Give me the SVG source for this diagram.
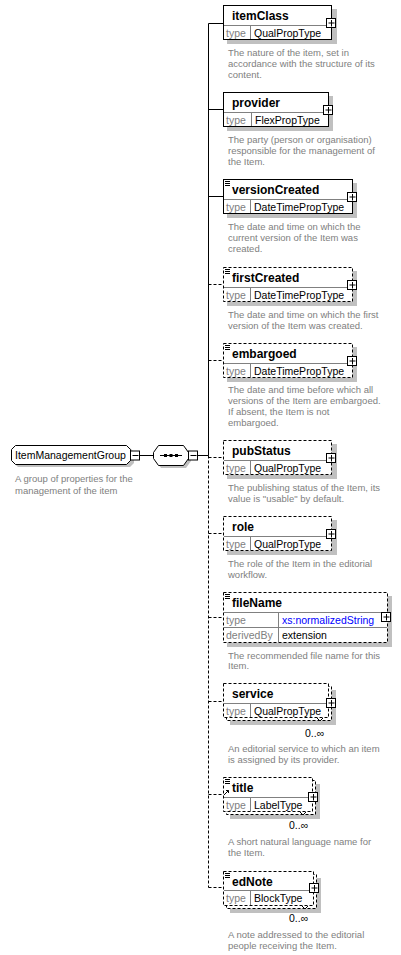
<svg xmlns="http://www.w3.org/2000/svg" width="401" height="955" viewBox="0 0 401 955">
<style>
.box{fill:#fff;stroke:#000;stroke-width:1}
.dbox{fill:#fff;stroke:#000;stroke-width:1;stroke-dasharray:3,2}
.sh{fill:#c0c0c0;stroke:none}
.div{stroke:#808080;stroke-width:1;fill:none}
.ln{stroke:#000;stroke-width:1;fill:none}
.dln{stroke:#000;stroke-width:1;fill:none;stroke-dasharray:3,2}
.lbl{font-family:"Liberation Sans",Arial,sans-serif;font-size:12px;font-weight:bold;fill:#000}
.tk{font-family:"Liberation Sans",Arial,sans-serif;font-size:10.5px;fill:#808080}
.tv{font-family:"Liberation Sans",Arial,sans-serif;font-size:10.5px;fill:#000}
.tb{font-family:"Liberation Sans",Arial,sans-serif;font-size:10.5px;fill:#0000ff}
.ds{font-family:"Liberation Sans",Arial,sans-serif;font-size:9.5px;fill:#808080}
.oc{font-family:"Liberation Sans",Arial,sans-serif;font-size:10.5px;fill:#000}
.pm{fill:#fff;stroke:#000;stroke-width:1}
</style>
<defs>
<g id="plus"><rect class="pm" x="0.5" y="0.5" width="9" height="9"/><path class="ln" d="M2.5,5H8.5M5.5,2V8.5"/></g>
<g id="minus"><rect class="pm" x="0.5" y="0.5" width="9" height="9"/><path class="ln" d="M2.5,5H8.5"/></g>
<g id="doc"><path class="ln" d="M2,1.5H7M2,3.5H7M2,5.5H7"/></g>
<path id="notch" class="ln" d="M0,0L3,3L6,0"/>
</defs>

<g id="connectors">
<path class="ln" d="M139,455.5H153.5"/>
<path class="ln" d="M197,455.5H208.5"/>
<path class="ln" d="M208.5,23.5V455.5"/>
<path class="dln" d="M208.5,455.5V887.5"/>
<path class="ln" d="M208.5,23.5H223"/>
<path class="ln" d="M208.5,109.5H223"/>
<path class="ln" d="M208.5,196.5H223"/>
<path class="dln" d="M208.5,284.5H223"/>
<path class="dln" d="M208.5,360.5H223"/>
<path class="dln" d="M208.5,457.5H223"/>
<path class="dln" d="M208.5,533.5H223"/>
<path class="dln" d="M208.5,617.5H223"/>
<path class="dln" d="M208.5,701.5H223"/>
<path class="dln" d="M208.5,794.5H223"/>
<path class="dln" d="M208.5,887.5H223"/>
</g>

<g id="ItemManagementGroup">
<path class="sh" d="M18,448H130L134,452V463L130,467H18L14,463V452Z"/>
<path class="box" d="M15.5,445.5H126.5L130.5,449.5V460.5L126.5,464.5H15.5L11.5,460.5V449.5Z"/>
<text class="tv" x="15" y="459">ItemManagementGroup</text>
<use href="#minus" x="130" y="450.5"/>
<text class="ds" x="15" y="482">A group of properties for the</text>
<text class="ds" x="15" y="493.5">management of the item</text>
</g>

<g id="sequence">
<path class="sh" d="M161,448H186L191,455V461L186,468H161L156,461V455Z"/>
<path class="box" d="M158.5,445.5H183.5L188.5,452.5V458.5L183.5,465.5H158.5L153.5,458.5V452.5Z"/>
<path class="ln" d="M160,455.5H182"/>
<rect x="164" y="454" width="3" height="3" fill="#000"/>
<rect x="169.5" y="454" width="3" height="3" fill="#000"/>
<rect x="175" y="454" width="3" height="3" fill="#000"/>
<use href="#minus" x="188" y="450.5"/>
</g>

<g id="itemClass">
<rect class="sh" x="227" y="9" width="110" height="35"/>
<rect class="box" x="223.5" y="5.5" width="108" height="34"/>
<path class="div" d="M224,25.5H331M250.5,26V39"/>
<text class="lbl" x="232" y="20">itemClass</text>
<text class="tk" x="226" y="36.5">type</text>
<text class="tv" x="254" y="36.5">QualPropType</text>
<use href="#plus" x="326" y="18"/>
<text class="ds" x="228" y="55.5">The nature of the item, set in</text>
<text class="ds" x="228" y="66.5">accordance with the structure of its</text>
<text class="ds" x="228" y="78">content.</text>
</g>

<g id="provider">
<rect class="sh" x="227" y="96" width="106" height="35"/>
<rect class="box" x="223.5" y="92.5" width="105" height="34"/>
<path class="div" d="M224,112.5H328M251.5,113V126"/>
<text class="lbl" x="232" y="107">provider</text>
<text class="tk" x="226" y="123.5">type</text>
<text class="tv" x="255" y="123.5">FlexPropType</text>
<use href="#plus" x="323" y="105"/>
<text class="ds" x="228" y="142.5">The party (person or organisation)</text>
<text class="ds" x="228" y="154">responsible for the management of</text>
<text class="ds" x="228" y="165">the Item.</text>
</g>

<g id="versionCreated">
<rect class="sh" x="227" y="183" width="130" height="35"/>
<rect class="box" x="223.5" y="179.5" width="129" height="34"/>
<use href="#doc" x="223" y="180"/>
<path class="div" d="M224,199.5H352M250.5,200V213"/>
<text class="lbl" x="232" y="194">versionCreated</text>
<text class="tk" x="226" y="210.5">type</text>
<text class="tv" x="254" y="210.5">DateTimePropType</text>
<use href="#plus" x="347" y="192"/>
<text class="ds" x="228" y="230">The date and time on which the</text>
<text class="ds" x="228" y="241">current version of the Item was</text>
<text class="ds" x="228" y="252">created.</text>
</g>

<g id="firstCreated">
<rect class="sh" x="227" y="271" width="130" height="35"/>
<rect class="dbox" x="223.5" y="267.5" width="129" height="34"/>
<use href="#doc" x="223" y="268"/>
<path class="div" d="M224,287.5H352M250.5,288V301"/>
<text class="lbl" x="232" y="282">firstCreated</text>
<text class="tk" x="226" y="298.5">type</text>
<text class="tv" x="254" y="298.5">DateTimePropType</text>
<use href="#plus" x="347" y="280"/>
<text class="ds" x="228" y="317.5">The date and time on which the first</text>
<text class="ds" x="228" y="329">version of the Item was created.</text>
</g>

<g id="embargoed">
<rect class="sh" x="227" y="347" width="130" height="35"/>
<rect class="dbox" x="223.5" y="343.5" width="129" height="34"/>
<use href="#doc" x="223" y="344"/>
<path class="div" d="M224,363.5H352M250.5,364V377"/>
<text class="lbl" x="232" y="358">embargoed</text>
<text class="tk" x="226" y="374.5">type</text>
<text class="tv" x="254" y="374.5">DateTimePropType</text>
<use href="#plus" x="347" y="356"/>
<text class="ds" x="228" y="392.5">The date and time before which all</text>
<text class="ds" x="228" y="404">versions of the Item are embargoed.</text>
<text class="ds" x="228" y="415">If absent, the Item is not</text>
<text class="ds" x="228" y="426">embargoed.</text>
</g>

<g id="pubStatus">
<rect class="sh" x="227" y="444" width="110" height="35"/>
<rect class="dbox" x="223.5" y="440.5" width="108" height="34"/>
<path class="div" d="M224,460.5H331M250.5,461V474"/>
<text class="lbl" x="232" y="455">pubStatus</text>
<text class="tk" x="226" y="471.5">type</text>
<text class="tv" x="254" y="471.5">QualPropType</text>
<use href="#plus" x="326" y="453"/>
<text class="ds" x="228" y="491">The publishing status of the Item, its</text>
<text class="ds" x="228" y="502">value is "usable" by default.</text>
</g>

<g id="role">
<rect class="sh" x="227" y="520" width="110" height="35"/>
<rect class="dbox" x="223.5" y="516.5" width="108" height="34"/>
<path class="div" d="M224,536.5H331M250.5,537V550"/>
<text class="lbl" x="232" y="531">role</text>
<text class="tk" x="226" y="547.5">type</text>
<text class="tv" x="254" y="547.5">QualPropType</text>
<use href="#plus" x="326" y="529"/>
<text class="ds" x="228" y="567">The role of the Item in the editorial</text>
<text class="ds" x="228" y="578">workflow.</text>
</g>

<g id="fileName">
<rect class="sh" x="227" y="596" width="165" height="51"/>
<rect class="dbox" x="223.5" y="592.5" width="164" height="50"/>
<use href="#doc" x="223" y="593"/>
<path class="div" d="M224,612.5H387M224,627.5H387M278.5,613V642"/>
<text class="lbl" x="232" y="607">fileName</text>
<text class="tk" x="226" y="624">type</text>
<text class="tb" x="282" y="624">xs:normalizedString</text>
<text class="tk" x="226" y="639">derivedBy</text>
<text class="tv" x="282" y="639">extension</text>
<use href="#plus" x="381" y="612"/>
<text class="ds" x="228" y="658.5">The recommended file name for this</text>
<text class="ds" x="228" y="669">Item.</text>
</g>

<g id="service">
<rect class="sh" x="230" y="690" width="106" height="35"/>
<rect class="dbox" x="226.5" y="686.5" width="105" height="34"/>
<rect class="dbox" x="223.5" y="683.5" width="105" height="34"/>
<path class="div" d="M224,703.5H328M250.5,704V717"/>
<text class="lbl" x="232" y="698">service</text>
<text class="tk" x="226" y="714.5">type</text>
<text class="tv" x="254" y="714.5">QualPropType</text>
<use href="#notch" x="317" y="718"/>
<use href="#plus" x="326" y="698"/>
<text class="oc" x="305" y="737">0..∞</text>
<text class="ds" x="228" y="752">An editorial service to which an item</text>
<text class="ds" x="228" y="763">is assigned by its provider.</text>
</g>

<g id="title">
<rect class="sh" x="230" y="784" width="90" height="35"/>
<rect class="dbox" x="226.5" y="780.5" width="89" height="34"/>
<rect class="dbox" x="223.5" y="777.5" width="89" height="34"/>
<use href="#doc" x="223" y="778"/>
<path class="ln" d="M224,795L228.5,790.5M226,790.5H228.5V793"/>
<path class="div" d="M224,797.5H312M250.5,798V811"/>
<text class="lbl" x="232" y="792">title</text>
<text class="tk" x="226" y="808.5">type</text>
<text class="tv" x="254" y="808.5">LabelType</text>
<use href="#notch" x="300" y="812"/>
<use href="#plus" x="308" y="792"/>
<text class="oc" x="289" y="829">0..∞</text>
<text class="ds" x="228" y="844.5">A short natural language name for</text>
<text class="ds" x="228" y="856">the Item.</text>
</g>

<g id="edNote">
<rect class="sh" x="230" y="878" width="91" height="35"/>
<rect class="dbox" x="226.5" y="874.5" width="90" height="34"/>
<rect class="dbox" x="223.5" y="871.5" width="90" height="34"/>
<use href="#doc" x="223" y="872"/>
<path class="div" d="M224,890.5H313M250.5,891V905"/>
<text class="lbl" x="232" y="886">edNote</text>
<text class="tk" x="226" y="902">type</text>
<text class="tv" x="254" y="902">BlockType</text>
<use href="#notch" x="302" y="906"/>
<use href="#plus" x="309" y="883"/>
<text class="oc" x="289" y="922">0..∞</text>
<text class="ds" x="228" y="937.5">A note addressed to the editorial</text>
<text class="ds" x="228" y="948.5">people receiving the Item.</text>
</g>
</svg>
